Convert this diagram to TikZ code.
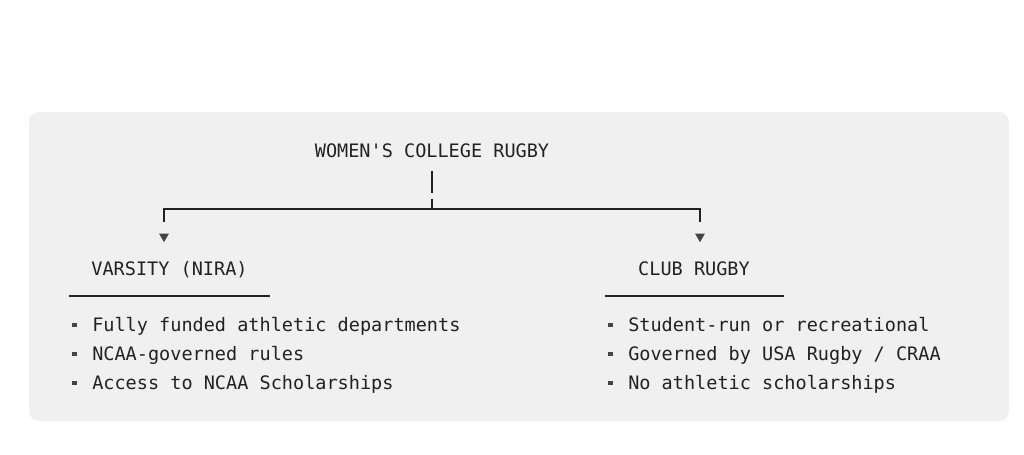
\documentclass[tikz,border=0pt]{standalone}
\usepackage{fontspec}
\setmonofont{DejaVu Sans Mono}
\usepackage{xcolor}
\usepackage{tikz}
\usetikzlibrary{positioning, arrows.meta, shapes.geometric}
\definecolor{panel}{HTML}{F0F0F0}
\definecolor{ink}{HTML}{222222}
\definecolor{tipgray}{HTML}{444444}
\tikzset{
    heading/.style={font=\ttfamily\fontsize{13.9}{16}\selectfont, text=ink, inner sep=0pt, anchor=base},
    item/.style={font=\ttfamily\fontsize{13.9}{16}\selectfont, text=ink, inner sep=0pt, anchor=base west},
    bullet/.style={rectangle, fill=tipgray, minimum size=3.6pt, inner sep=0pt},
    marker/.style={regular polygon, regular polygon sides=3, shape border rotate=180, fill=tipgray, inner sep=0pt, minimum size=8.5pt},
    link/.style={draw=ink, line width=1pt},
    rule/.style={draw=ink, line width=1pt}
}

\begin{document}
\begin{tikzpicture}[x=0.75pt, y=-0.75pt]
    \useasboundingbox (0,0) rectangle (1024,454);

    % Panel
    \fill[panel, rounded corners=7.5pt] (29,112) rectangle (1009,421);

    % Headings
    \node[heading] (title) at (432,157) {WOMEN'S COLLEGE RUGBY};
    \node[heading] (varsity) at (169.5,275.5) {VARSITY (NIRA)};
    \node[heading] (club) at (694,275.5) {CLUB RUGBY};

    % Tree
    \coordinate (split) at (432,209);
    \node[marker] (lmark) at (164,236.5) {};
    \node[marker] (rmark) at (700,236.5) {};
    \draw[link, shorten <=9.75pt, dash pattern=on 17pt off 4pt on 20pt] (title.south) -- (split);
    \draw[link, shorten >=8.5pt] (split) -| (lmark.north);
    \draw[link, shorten >=8.5pt] (split) -| (rmark.north);

    % Underlines
    \draw[rule] (69,296) -- (270,296);
    \draw[rule] (605,296) -- (784,296);

    % Varsity items
    \foreach \txt [count=\i] in {Fully funded athletic departments, NCAA-governed rules, Access to NCAA Scholarships} {
        \node[bullet] (lb\i) at (74.5,296+29*\i) {};
        \node[item] (li\i) at (92,302.5+29*\i) {\txt};
    }

    % Club items
    \foreach \txt [count=\i] in {Student-run or recreational, Governed by USA Rugby / CRAA, No athletic scholarships} {
        \node[bullet] (rb\i) at (610.5,296+29*\i) {};
        \node[item] (ri\i) at (628,302.5+29*\i) {\txt};
    }
\end{tikzpicture}
\end{document}
